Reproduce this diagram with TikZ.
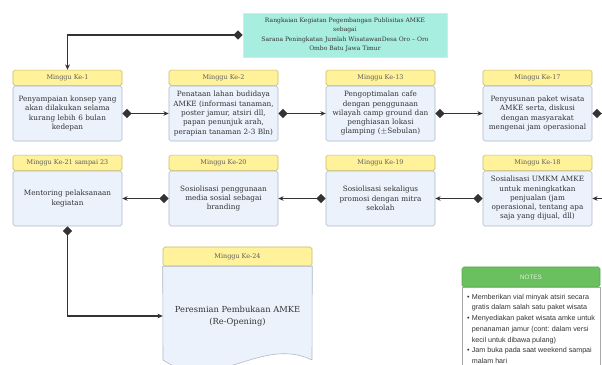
\documentclass[tikz,border=0pt]{standalone}
\usepackage{fontspec}
\setmainfont{DejaVu Serif}
\newfontfamily\notesfont{Liberation Sans}
\usetikzlibrary{arrows.meta, positioning, calc}
\definecolor{wkHeadF}{HTML}{FFF29B}
\definecolor{wkHeadS}{HTML}{C9B96A}
\definecolor{wkBodyF}{HTML}{EBF2FC}
\definecolor{wkBodyS}{HTML}{AEB8C6}
\definecolor{tealF}{HTML}{A8EEE0}
\definecolor{tealS}{HTML}{C4F2E8}
\definecolor{noteHeadF}{HTML}{6ABF5E}
\definecolor{noteHeadS}{HTML}{5DA852}
\definecolor{noteS}{HTML}{A8A8A8}
\definecolor{lineC}{HTML}{333333}
\definecolor{txtC}{HTML}{333333}
\tikzset{
  wbody/.style={rectangle, draw=wkBodyS, fill=wkBodyF, line width=0.5pt,
    rounded corners=1.5pt, minimum width=3.27cm, minimum height=1.65cm,
    text width=3.22cm, align=center, inner sep=0pt, text=txtC,
    font=\fontsize{6.2}{7.9}\selectfont},
  whead/.style={rectangle, draw=wkHeadS, fill=wkHeadF, line width=0.5pt,
    rounded corners=1.5pt, minimum width=3.27cm, minimum height=0.46cm,
    inner sep=0pt, text=txtC!80, font=\fontsize{5.5}{6.5}\selectfont},
  titlebox/.style={rectangle, draw=tealS, fill=tealF, line width=0.5pt,
    minimum width=6.12cm, minimum height=1.32cm, align=center,
    inner sep=0pt, text=txtC, font=\fontsize{5.15}{8}\selectfont},
  flow/.style={{Diamond[length=2.8mm,width=2.8mm]}-{Stealth[length=1.6mm,width=1.4mm]},
    line width=1.1pt, draw=lineC},
}

\begin{document}
\begin{tikzpicture}
  \useasboundingbox (0,0) rectangle (18.06,10.95);
  \clip (0,0) rectangle (18.06,10.95);

  % ---- Title -------------------------------------------------------------
  \node[titlebox] (title) at (10.35,9.9)
    {Rangkaian Kegiatan Pegembangan Publisitas AMKE\\ sebagai\\
     Sarana Peningkatan Jumlah WisatawanDesa Oro -- Oro\\ Ombo Batu Jawa Timur};

  % ---- First row ---------------------------------------------------------
  \node[wbody] (b1)  at (2.025,7.545)
    {Penyampaian konsep yang\\ akan dilakukan selama\\ kurang lebih 6 bulan\\ kedepan};
  \node[wbody] (b2)  at (6.705,7.545)
    {Penataan lahan budidaya\\ AMKE (informasi tanaman,\\ poster jamur, atsiri dll,\\
     papan penunjuk arah,\\ perapian tanaman 2-3 Bln)};
  \node[wbody] (b13) at (11.415,7.545)
    {Pengoptimalan cafe\\ dengan penggunaan\\ wilayah camp ground dan\\
     penghiasan lokasi\\ glamping ($\pm$Sebulan)};
  \node[wbody] (b17) at (16.125,7.545)
    {Penyusunan paket wisata\\ AMKE serta, diskusi\\ dengan masyarakat\\ mengenai jam operasional};

  \node[whead, above=0pt of b1]  (h1)  {Minggu Ke-1};
  \node[whead, above=0pt of b2]  (h2)  {Minggu Ke-2};
  \node[whead, above=0pt of b13] (h13) {Minggu Ke-13};
  \node[whead, above=0pt of b17] (h17) {Minggu Ke-17};

  % ---- Second row --------------------------------------------------------
  \node[wbody] (b21) at (2.025,4.995)  {Mentoring pelaksanaan\\ kegiatan};
  \node[wbody] (b20) at (6.705,4.995)
    {Sosiolisasi penggunaan\\ media sosial sebagai\\ branding};
  \node[wbody] (b19) at (11.415,4.995)
    {Sosiolisasi sekaligus\\ promosi dengan mitra\\ sekolah};
  \node[wbody] (b18) at (16.125,4.995)
    {Sosialisasi UMKM AMKE\\ untuk meningkatkan\\ penjualan (jam\\
     operasional, tentang apa\\ saja yang dijual, dll)};

  \node[whead, above=0pt of b21] (h21) {Minggu Ke-21 sampai 23};
  \node[whead, above=0pt of b20] (h20) {Minggu Ke-20};
  \node[whead, above=0pt of b19] (h19) {Minggu Ke-19};
  \node[whead, above=0pt of b18] (h18) {Minggu Ke-18};

  % ---- Final week (document shape) ---------------------------------------
  \node[whead, minimum width=4.47cm, minimum height=0.57cm] (h24) at (7.125,3.255)
    {Minggu Ke-24};
  \draw[draw=wkBodyS, fill=wkBodyF, line width=0.5pt]
    (h24.south west) -- (4.89,0.15) .. controls (6.45,-0.9) and (7.8,0.9) .. (9.36,0.15)
    -- (h24.south east) -- cycle;
  \node[minimum width=4.47cm, align=center, inner sep=0pt, text=txtC,
        font=\fontsize{7.1}{10.2}\selectfont] (b24) at (7.125,1.47)
    {Peresmian Pembukaan AMKE\\ (Re-Opening)};

  % ---- Notes -------------------------------------------------------------
  \node[rectangle, draw=noteHeadS, fill=noteHeadF, line width=0.5pt,
        rounded corners=1.5pt, minimum width=4.14cm, minimum height=0.6cm,
        inner sep=0pt, text=white!80!noteHeadF,
        font=\notesfont\fontsize{5.4}{6.5}\selectfont] (nh) at (15.93,2.64) {NOTES};
  \node[rectangle, draw=noteS, fill=white, line width=0.5pt, below=0pt of nh,
        minimum width=4.14cm, minimum height=2.5cm, inner sep=0pt, text=txtC,
        font=\notesfont\fontsize{6.1}{9.2}\selectfont] (nb)
    {\begin{tabular}{@{}l@{\hspace{2pt}}l@{}}
      \textbullet & Memberikan vial minyak atsiri secara\\
                  & gratis dalam salah satu paket wisata\\
      \textbullet & Menyediakan paket wisata amke untuk\\
                  & penanaman jamur (cont: dalam versi\\
                  & kecil untuk dibawa pulang)\\
      \textbullet & Jam buka pada saat weekend sampai\\
                  & malam hari
     \end{tabular}};

  % ---- Connectors --------------------------------------------------------
  \draw[flow] (title.west) -| (h1.north);
  \draw[flow] (b1.east)  -- (b2.west);
  \draw[flow] (b2.east)  -- (b13.west);
  \draw[flow] (b13.east) -- (b17.west);
  \draw[flow] (b17.east) -- ++(1.2,0) |- (b18.east);
  \draw[flow] (b18.west) -- (b19.east);
  \draw[flow] (b19.west) -- (b20.east);
  \draw[flow] (b20.west) -- (b21.east);
  \draw[flow] (b21.south) |- (b24.west);

\end{tikzpicture}
\end{document}
